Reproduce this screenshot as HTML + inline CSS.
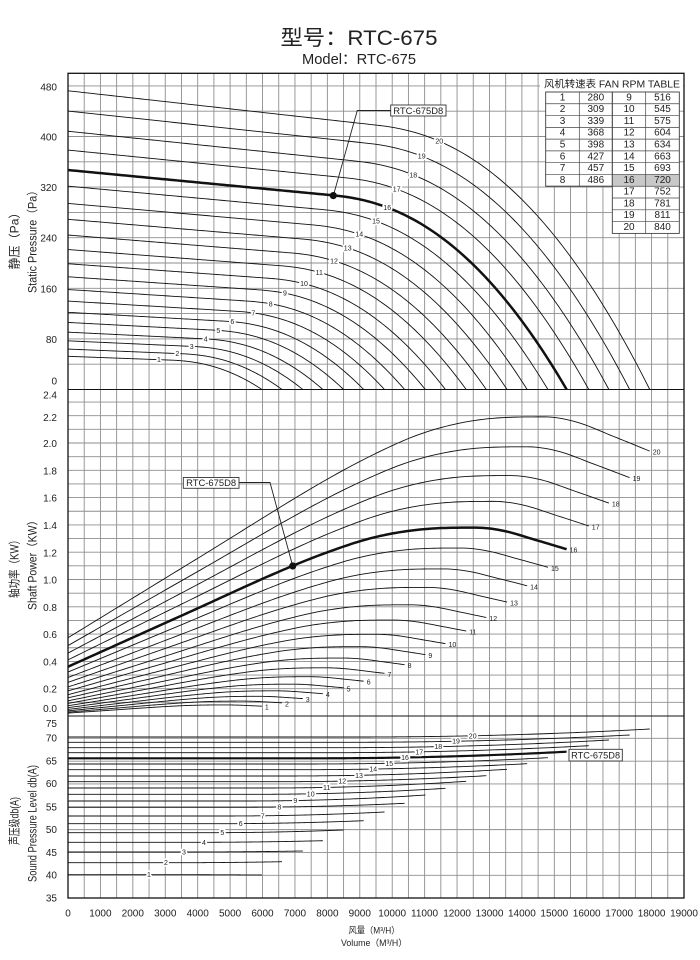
<!DOCTYPE html>
<html><head><meta charset="utf-8">
<style>
html,body{margin:0;padding:0;background:#fff;}
svg{display:block;}
text{font-family:"Liberation Sans","Noto Sans CJK SC",sans-serif;fill:#222;}
.tk{font-size:10px;text-anchor:end;}
.xl{font-size:10px;text-anchor:middle;}
.cl{font-size:7px;text-anchor:middle;paint-order:stroke;stroke:#fff;stroke-width:3.5px;stroke-linejoin:round;}
.pl{font-size:7px;text-anchor:start;}
.tb{font-size:10px;text-anchor:middle;}
</style></head><body>
<svg width="700" height="960" viewBox="0 0 700 960" xmlns="http://www.w3.org/2000/svg">
<rect width="700" height="960" fill="#fff"/>
<text x="359" y="45" text-anchor="middle" font-size="21" textLength="157" lengthAdjust="spacingAndGlyphs">型号：RTC-675</text>
<text x="359" y="64" text-anchor="middle" font-size="14.5" textLength="114" lengthAdjust="spacingAndGlyphs">Model：RTC-675</text>

<g id="grid"></g>
<g id="curves"></g>

<!-- frame -->
<rect x="68" y="73.3" width="616" height="824.7" fill="none" stroke="#111" stroke-width="1.3"/>
<line x1="68" y1="389.5" x2="684" y2="389.5" stroke="#111" stroke-width="1.1"/>
<line x1="68" y1="716" x2="684" y2="716" stroke="#111" stroke-width="1.1"/>

<!-- curve labels -->
<g>
<text class="cl" id="s1">1</text><text class="cl" id="s2">2</text><text class="cl" id="s3">3</text><text class="cl" id="s4">4</text><text class="cl" id="s5">5</text><text class="cl" id="s6">6</text><text class="cl" id="s7">7</text><text class="cl" id="s8">8</text><text class="cl" id="s9">9</text><text class="cl" id="s10">10</text><text class="cl" id="s11">11</text><text class="cl" id="s12">12</text><text class="cl" id="s13">13</text><text class="cl" id="s14">14</text><text class="cl" id="s15">15</text><text class="cl" id="s16">16</text><text class="cl" id="s17">17</text><text class="cl" id="s18">18</text><text class="cl" id="s19">19</text><text class="cl" id="s20">20</text>
<text class="pl" id="p1">1</text><text class="pl" id="p2">2</text><text class="pl" id="p3">3</text><text class="pl" id="p4">4</text><text class="pl" id="p5">5</text><text class="pl" id="p6">6</text><text class="pl" id="p7">7</text><text class="pl" id="p8">8</text><text class="pl" id="p9">9</text><text class="pl" id="p10">10</text><text class="pl" id="p11">11</text><text class="pl" id="p12">12</text><text class="pl" id="p13">13</text><text class="pl" id="p14">14</text><text class="pl" id="p15">15</text><text class="pl" id="p16">16</text><text class="pl" id="p17">17</text><text class="pl" id="p18">18</text><text class="pl" id="p19">19</text><text class="pl" id="p20">20</text>
<text class="cl" id="d1">1</text><text class="cl" id="d2">2</text><text class="cl" id="d3">3</text><text class="cl" id="d4">4</text><text class="cl" id="d5">5</text><text class="cl" id="d6">6</text><text class="cl" id="d7">7</text><text class="cl" id="d8">8</text><text class="cl" id="d9">9</text><text class="cl" id="d10">10</text><text class="cl" id="d11">11</text><text class="cl" id="d12">12</text><text class="cl" id="d13">13</text><text class="cl" id="d14">14</text><text class="cl" id="d15">15</text><text class="cl" id="d16">16</text><text class="cl" id="d17">17</text><text class="cl" id="d18">18</text><text class="cl" id="d19">19</text><text class="cl" id="d20">20</text>
</g>

<!-- callouts -->
<polyline points="333.3,195.7 357.3,110.5 390.7,110.5" fill="none" stroke="#222" stroke-width="0.9"/>
<circle cx="333.3" cy="195.6" r="3.6" fill="#111"/>
<rect x="390.7" y="105" width="55.3" height="11" fill="#fff" stroke="#333" stroke-width="0.9"/>
<text x="418.3" y="113.8" text-anchor="middle" font-size="9" textLength="50" lengthAdjust="spacingAndGlyphs">RTC-675D8</text>

<polyline points="292.7,566 270,482.5 239,482.5" fill="none" stroke="#222" stroke-width="0.9"/>
<circle cx="292.7" cy="566" r="3.6" fill="#111"/>
<rect x="183.3" y="477.5" width="55.7" height="10.8" fill="#fff" stroke="#333" stroke-width="0.9"/>
<text x="211.1" y="486.2" text-anchor="middle" font-size="9" textLength="50" lengthAdjust="spacingAndGlyphs">RTC-675D8</text>

<rect x="569" y="749.3" width="53.3" height="11.7" fill="#fff" stroke="#333" stroke-width="0.9"/>
<text x="595.6" y="758.5" text-anchor="middle" font-size="9.5" textLength="49" lengthAdjust="spacingAndGlyphs">RTC-675D8</text>

<!-- table -->
<rect x="540" y="74" width="143" height="18" fill="#fff"/>
<text x="544" y="87.5" font-size="10" textLength="136" lengthAdjust="spacingAndGlyphs">风机转速表 FAN RPM TABLE</text>
<rect x="545.7" y="92" width="66.6" height="94.24" fill="#fff" stroke="#444" stroke-width="0.8"/>
<rect x="612.3" y="92" width="67" height="141.36" fill="#fff" stroke="#444" stroke-width="0.8"/>
<rect x="612.3" y="174.46" width="67" height="11.78" fill="#c8c8c8"/>
<g stroke="#444" stroke-width="0.7">
<line x1="579.3" y1="92" x2="579.3" y2="186.24"/>
<line x1="645.7" y1="92" x2="645.7" y2="233.36"/>
<line x1="545.7" y1="103.78" x2="679.3" y2="103.78"/>
<line x1="545.7" y1="115.56" x2="679.3" y2="115.56"/>
<line x1="545.7" y1="127.34" x2="679.3" y2="127.34"/>
<line x1="545.7" y1="139.12" x2="679.3" y2="139.12"/>
<line x1="545.7" y1="150.9" x2="679.3" y2="150.9"/>
<line x1="545.7" y1="162.68" x2="679.3" y2="162.68"/>
<line x1="545.7" y1="174.46" x2="679.3" y2="174.46"/>
<line x1="545.7" y1="186.24" x2="679.3" y2="186.24"/>
<line x1="612.3" y1="198.02" x2="679.3" y2="198.02"/>
<line x1="612.3" y1="209.8" x2="679.3" y2="209.8"/>
<line x1="612.3" y1="221.58" x2="679.3" y2="221.58"/>
<rect x="612.3" y="92" width="67" height="141.36" fill="none"/>
<rect x="545.7" y="92" width="66.6" height="94.24" fill="none"/>
</g>
<g>
<text class="tb" x="562.5" y="100.4">1</text><text class="tb" x="595.8" y="100.4">280</text><text class="tb" x="629" y="100.4">9</text><text class="tb" x="662.5" y="100.4">516</text>
<text class="tb" x="562.5" y="112.2">2</text><text class="tb" x="595.8" y="112.2">309</text><text class="tb" x="629" y="112.2">10</text><text class="tb" x="662.5" y="112.2">545</text>
<text class="tb" x="562.5" y="124">3</text><text class="tb" x="595.8" y="124">339</text><text class="tb" x="629" y="124">11</text><text class="tb" x="662.5" y="124">575</text>
<text class="tb" x="562.5" y="135.7">4</text><text class="tb" x="595.8" y="135.7">368</text><text class="tb" x="629" y="135.7">12</text><text class="tb" x="662.5" y="135.7">604</text>
<text class="tb" x="562.5" y="147.5">5</text><text class="tb" x="595.8" y="147.5">398</text><text class="tb" x="629" y="147.5">13</text><text class="tb" x="662.5" y="147.5">634</text>
<text class="tb" x="562.5" y="159.3">6</text><text class="tb" x="595.8" y="159.3">427</text><text class="tb" x="629" y="159.3">14</text><text class="tb" x="662.5" y="159.3">663</text>
<text class="tb" x="562.5" y="171.1">7</text><text class="tb" x="595.8" y="171.1">457</text><text class="tb" x="629" y="171.1">15</text><text class="tb" x="662.5" y="171.1">693</text>
<text class="tb" x="562.5" y="182.9">8</text><text class="tb" x="595.8" y="182.9">486</text><text class="tb" x="629" y="182.9">16</text><text class="tb" x="662.5" y="182.9">720</text>
<text class="tb" x="629" y="194.6">17</text><text class="tb" x="662.5" y="194.6">752</text>
<text class="tb" x="629" y="206.4">18</text><text class="tb" x="662.5" y="206.4">781</text>
<text class="tb" x="629" y="218.2">19</text><text class="tb" x="662.5" y="218.2">811</text>
<text class="tb" x="629" y="230">20</text><text class="tb" x="662.5" y="230">840</text>
</g>

<!-- y tick labels -->
<g>
<text class="tk" x="57" y="90.3">480</text><text class="tk" x="57" y="140.3">400</text><text class="tk" x="57" y="190.9">320</text><text class="tk" x="57" y="241.3">240</text><text class="tk" x="57" y="292.3">160</text><text class="tk" x="57" y="342.9">80</text><text class="tk" x="57" y="384.3">0</text>
<text class="tk" x="57" y="398.6">2.4</text><text class="tk" x="57" y="420.9">2.2</text><text class="tk" x="57" y="446.9">2.0</text><text class="tk" x="57" y="474.3">1.8</text><text class="tk" x="57" y="501.6">1.6</text><text class="tk" x="57" y="528.9">1.4</text><text class="tk" x="57" y="556.3">1.2</text><text class="tk" x="57" y="583.6">1.0</text><text class="tk" x="57" y="610.9">0.8</text><text class="tk" x="57" y="637.9">0.6</text><text class="tk" x="57" y="665.3">0.4</text><text class="tk" x="57" y="692.6">0.2</text><text class="tk" x="57" y="711.9">0.0</text>
<text class="tk" x="57" y="726.9">75</text><text class="tk" x="57" y="741.3">70</text><text class="tk" x="57" y="764.6">65</text><text class="tk" x="57" y="786.9">60</text><text class="tk" x="57" y="810.3">55</text><text class="tk" x="57" y="832.9">50</text><text class="tk" x="57" y="855.9">45</text><text class="tk" x="57" y="878.6">40</text><text class="tk" x="57" y="901.3">35</text>
</g>

<!-- x tick labels -->
<g>
<text class="xl" x="68" y="916.3">0</text><text class="xl" x="100.4" y="916.3">1000</text><text class="xl" x="132.8" y="916.3">2000</text><text class="xl" x="165.3" y="916.3">3000</text><text class="xl" x="197.7" y="916.3">4000</text><text class="xl" x="230.1" y="916.3">5000</text><text class="xl" x="262.5" y="916.3">6000</text><text class="xl" x="295" y="916.3">7000</text><text class="xl" x="327.4" y="916.3">8000</text><text class="xl" x="359.8" y="916.3">9000</text><text class="xl" x="392.2" y="916.3">10000</text><text class="xl" x="424.6" y="916.3">11000</text><text class="xl" x="457.1" y="916.3">12000</text><text class="xl" x="489.5" y="916.3">13000</text><text class="xl" x="521.9" y="916.3">14000</text><text class="xl" x="554.3" y="916.3">15000</text><text class="xl" x="586.7" y="916.3">16000</text><text class="xl" x="619.2" y="916.3">17000</text><text class="xl" x="651.6" y="916.3">18000</text><text class="xl" x="684" y="916.3">19000</text>
</g>
<text x="374" y="933.5" text-anchor="middle" font-size="9" textLength="51" lengthAdjust="spacingAndGlyphs">风量（M³/H）</text>
<text x="374" y="946" text-anchor="middle" font-size="9" textLength="66" lengthAdjust="spacingAndGlyphs">Volume（M³/H）</text>

<!-- axis titles -->
<text x="18.5" y="238" transform="rotate(-90 18.5 238)" text-anchor="middle" font-size="12" textLength="63" lengthAdjust="spacingAndGlyphs">静压（Pa）</text>
<text x="36.5" y="239" transform="rotate(-90 36.5 239)" text-anchor="middle" font-size="11.5" textLength="108" lengthAdjust="spacingAndGlyphs">Static Pressure（Pa）</text>
<text x="18.5" y="566.5" transform="rotate(-90 18.5 566.5)" text-anchor="middle" font-size="12" textLength="63" lengthAdjust="spacingAndGlyphs">轴功率（KW）</text>
<text x="36.5" y="562.5" transform="rotate(-90 36.5 562.5)" text-anchor="middle" font-size="11.5" textLength="95" lengthAdjust="spacingAndGlyphs">Shaft Power（KW）</text>
<text x="18.5" y="821" transform="rotate(-90 18.5 821)" text-anchor="middle" font-size="12" textLength="48" lengthAdjust="spacingAndGlyphs">声压级db(A)</text>
<text x="36.5" y="823.5" transform="rotate(-90 36.5 823.5)" text-anchor="middle" font-size="11.5" textLength="117" lengthAdjust="spacingAndGlyphs">Sound Pressure Level db(A)</text>
</svg>
<script>
(function(){
var NS="http://www.w3.org/2000/svg";
var X0=68,XR=684,XS=(XR-X0)/19000;
function X(q){return X0+q*XS;}
function YS(p){return 389.5-p*0.6325;}
function YP(w){return 716-w*136.5;}
var rpm=[280,309,339,368,398,427,457,486,516,545,575,604,634,663,693,720,752,781,811,840];
var QE=15380;
function mono(pts){
 var n=pts.length,xs=pts.map(function(p){return p[0];}),ys=pts.map(function(p){return p[1];}),d=[],m=new Array(n),i;
 for(i=0;i<n-1;i++)d.push((ys[i+1]-ys[i])/(xs[i+1]-xs[i]));
 m[0]=d[0];m[n-1]=d[n-2];
 for(i=1;i<n-1;i++)m[i]=(d[i-1]*d[i]<=0)?0:(d[i-1]+d[i])/2;
 for(i=0;i<n-1;i++){if(d[i]===0){m[i]=0;m[i+1]=0;continue;}var a=m[i]/d[i],b=m[i+1]/d[i],s=a*a+b*b;if(s>9){var t=3/Math.sqrt(s);m[i]=t*a*d[i];m[i+1]=t*b*d[i];}}
 return function(x){
  if(x<=xs[0])return ys[0];
  if(x>=xs[n-1])return ys[n-1]+(x-xs[n-1])*m[n-1];
  var j=0;while(x>xs[j+1])j++;
  var h=xs[j+1]-xs[j],t=(x-xs[j])/h,t2=t*t,t3=t2*t;
  return (2*t3-3*t2+1)*ys[j]+(t3-2*t2+t)*h*m[j]+(-2*t3+3*t2)*ys[j+1]+(t3-t2)*h*m[j+1];
 };
}
var Q1=8171,P1=307,SL=40/8171,DE=QE-Q1;
var KK=(P1-SL*DE)/Math.pow(DE,2.2);
function fs(q){
 if(q<=Q1)return 347-SL*q;
 var d=q-Q1;
 return Math.max(0,P1-SL*d-KK*Math.pow(d,2.2));
}
var fp=mono([[0,0.361],[3500,0.735],[6920,1.099],[8300,1.225],[9300,1.30],[10327,1.350],[11355,1.375],[12587,1.380],[13407,1.358],[14434,1.289],[15380,1.222]]);
function add(g,tag,attrs){var e=document.createElementNS(NS,tag);for(var k in attrs)e.setAttribute(k,attrs[k]);g.appendChild(e);return e;}
var grid=document.getElementById('grid');
var d='',q,i,k;
for(q=500;q<19000;q+=500){d+='M'+X(q).toFixed(2)+' 73.3V898';}
for(var p=40;p<=480;p+=40){d+='M68 '+YS(p).toFixed(2)+'H684';}
for(i=1;i<=23;i++){d+='M68 '+YP(i/10).toFixed(2)+'H684';}
for(var db=40;db<=70;db+=5){d+='M68 '+(715.5+(75-db)*4.565).toFixed(2)+'H684';}
add(grid,'path',{d:d,stroke:'#8e8e8e','stroke-width':'0.9',fill:'none'});

var gc=document.getElementById('curves');
var sLab=[159,177.3,191.7,205.7,218.3,232.3,253.3,270.7,285,304,319.3,334,347.7,359.3,376,387.3,396.7,413.3,421.7,439.3];
var dLab=[149,166,184,204,222.3,240.7,262.7,279.3,295.3,310.7,326.7,342.3,359,373.3,389.3,405,419.3,438.3,456,472.7];
var ys0=[874.7,862.7,852,842.3,832.7,823.7,816,807.3,801,794.3,788,781.7,776,769.7,764,758.3,752.7,747.7,742.3,737];
var ye=[875,861.7,851,840.7,830,820.7,812,803.3,795,788.3,781.3,775.7,769.3,763.7,757.7,751.7,745.7,740,735,729];
function sy(k,x,xe){var u=(x-X0)/(xe-X0);var g=u<0.5?0:Math.pow((u-0.5)/0.5,2);return ys0[k]+(ye[k]-ys0[k])*g;}
for(k=0;k<20;k++){
 var r=rpm[k]/720,qe=QE*r,thick=(k===15);
 var ps=[],pp=[],pd=[],N=160;
 var xe=X(qe);
 for(i=0;i<=N;i++){
  q=qe*i/N;var qn=q/r;var xx=X(q);
  var P=Math.max(0,r*r*fs(qn));
  ps.push(xx.toFixed(2)+','+YS(P).toFixed(2));
  pp.push(xx.toFixed(2)+','+YP(r*r*r*fp(qn)).toFixed(2));
  pd.push(xx.toFixed(2)+','+sy(k,xx,xe).toFixed(2));
 }
 var sw=thick?2.5:0.9;
 add(gc,'polyline',{points:ps.join(' '),fill:'none',stroke:'#111','stroke-width':sw,'stroke-linejoin':'round'});
 add(gc,'polyline',{points:pp.join(' '),fill:'none',stroke:'#111','stroke-width':sw,'stroke-linejoin':'round'});
 add(gc,'polyline',{points:pd.join(' '),fill:'none',stroke:'#111','stroke-width':thick?2.2:0.9});
 var lx=sLab[k],lq=(lx-X0)/XS;
 var ts=document.getElementById('s'+(k+1));
 ts.setAttribute('x',lx);ts.setAttribute('y',(YS(Math.max(0,r*r*fs(lq/r)))+2.5).toFixed(2));
 var tp=document.getElementById('p'+(k+1));
 tp.setAttribute('x',(xe+3).toFixed(2));tp.setAttribute('y',(YP(r*r*r*fp(QE))+3.5).toFixed(2));
 var td=document.getElementById('d'+(k+1));
 td.setAttribute('x',dLab[k]);td.setAttribute('y',(sy(k,dLab[k],xe)+2.5).toFixed(2));
}
})();
</script>
</body></html>
